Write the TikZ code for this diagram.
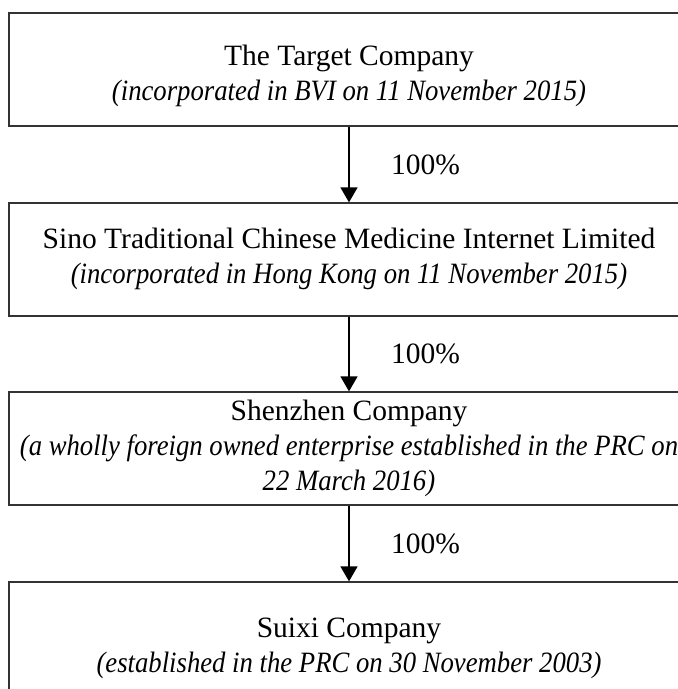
\documentclass[tikz,border=0pt]{standalone}
\usepackage{fontspec}
\setmainfont{Liberation Serif}[ItalicFeatures={FakeStretch=0.905}]
\usetikzlibrary{arrows.meta,positioning}
\newcommand\inc[1]{\textit{(#1)}}

\begin{document}
\begin{tikzpicture}[x=1pt,y=-1pt,font=\fontsize{29.5}{35}\selectfont]
\tikzset{firm/.style={draw=black!80,line width=1.3pt,minimum width=680pt,minimum height=113pt,inner sep=0pt},
  info/.style={align=center,inner sep=0pt},
  own/.style={-{Triangle[width=17pt,length=15pt]},line width=1.6pt},
  pct/.style={right,xshift=38pt}}
\useasboundingbox (0,0) rectangle (678,689);

% boxes
\node[firm](T)at(349,69.5){};
\node[firm](S)at(349,259.5){};
\node[firm](Z)at(349,448.5){};
\node[firm](X)at(349,638.5){};

% texts
\node[info](Tt)at([yshift=-6pt]T.center){The Target Company\\ \inc{incorporated in BVI on 11 November 2015}};
\node[info](St)at([yshift=1pt]S.center){Sino Traditional Chinese Medicine Internet Limited\\
  \inc{incorporated in Hong Kong on 11 November 2015}};
\node[info](Zt)at(Z.center){Shenzhen Company\\
  \textit{(a wholly foreign owned enterprise established in the PRC on}\\ \textit{22 March 2016)}};
\node[info](Xt)at([yshift=-10pt]X.center){Suixi Company\\ \inc{established in the PRC on 30 November 2003}};

\draw[own](T)--node[pct]{100\%}(S);
\draw[own](S)--node[pct]{100\%}(Z);
\draw[own](Z)--node[pct]{100\%}(X);
\end{tikzpicture}
\end{document}
